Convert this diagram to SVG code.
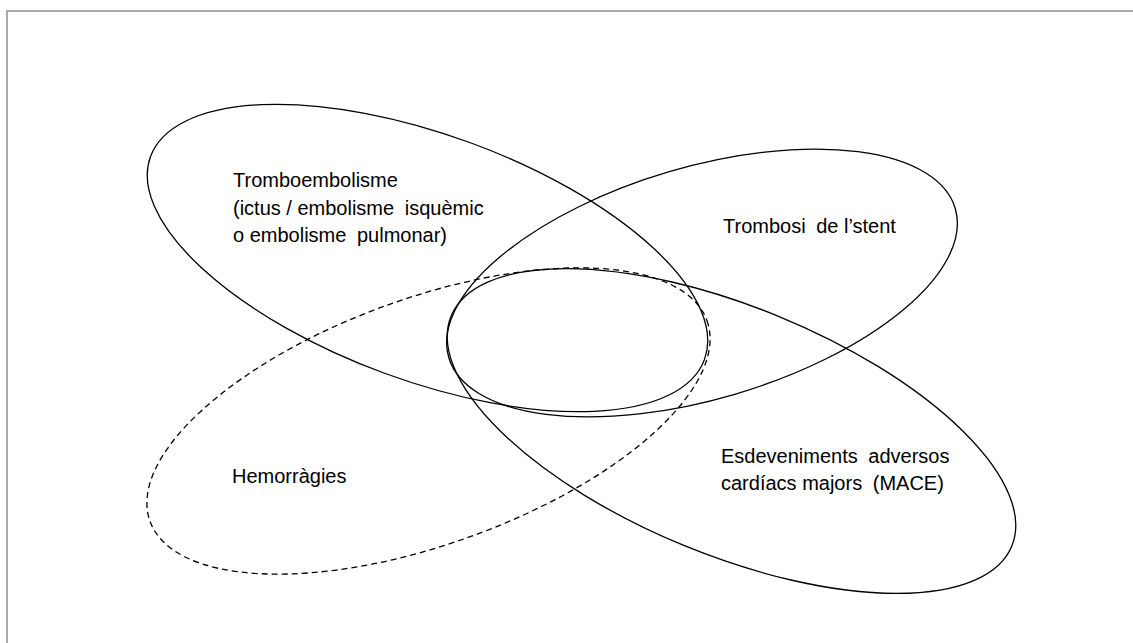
<svg xmlns="http://www.w3.org/2000/svg" width="1133" height="643" viewBox="0 0 1133 643">
<style>
.sh{fill:none;stroke:#000;stroke-width:1.3}
.dash{stroke-dasharray:6 4}
.t{font-family:"Liberation Sans",Arial,sans-serif;font-size:20px;fill:#000}
</style>
<rect x="0" y="0" width="1133" height="643" fill="#fff"/>
<rect x="7" y="11" width="1140" height="700" fill="none" stroke="#aaa" stroke-width="2"/>
<g id="tromboembolisme">
<ellipse class="sh" cx="427.5" cy="258" rx="295" ry="123" transform="rotate(20.1 427.5 258)"/>
<text class="t" x="233" y="187">Tromboembolisme</text>
<text class="t" x="233" y="214.5">(ictus / embolisme <tspan dx="5">isquèmic</tspan></text>
<text class="t" x="233" y="242">o embolisme <tspan dx="5">pulmonar)</tspan></text>
</g>
<g id="trombosi">
<ellipse class="sh" cx="702" cy="283" rx="264" ry="116" transform="rotate(-16.4 702 283)"/>
<text class="t" x="723" y="233">Trombosi <tspan dx="5">de l’stent</tspan></text>
</g>
<g id="mace">
<ellipse class="sh" cx="731.5" cy="431" rx="303" ry="124" transform="rotate(22.3 731.5 431)"/>
<text class="t" x="721" y="463">Esdeveniments <tspan dx="5">adversos</tspan></text>
<text class="t" x="721" y="490">cardíacs majors <tspan dx="5">(MACE)</tspan></text>
</g>
<g id="hemorragies">
<ellipse class="sh dash" cx="428.5" cy="421" rx="296" ry="123" transform="rotate(-19.8 428.5 421)"/>
<text class="t" x="232" y="483">Hemorràgies</text>
</g>
<g id="connectors"></g>
</svg>
